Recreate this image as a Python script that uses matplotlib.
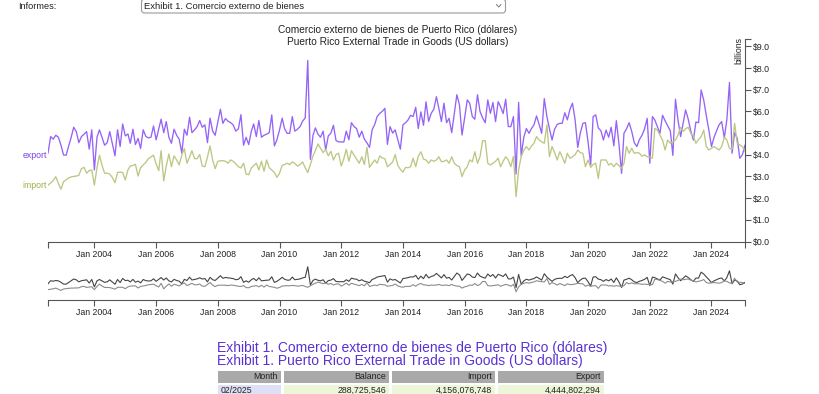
import matplotlib
matplotlib.use('Agg')
import matplotlib.pyplot as plt
import matplotlib.dates as mdates
from matplotlib.patches import Rectangle, FancyBboxPatch
import pandas as pd

plt.rcParams['font.family'] = ['Liberation Sans', 'DejaVu Sans']

# ---------------- data (billions of US dollars, monthly) ----------------
start_month = '2002-07-01'

export_2002 = [4.08, 4.84, 4.72, 4.90, 4.81, 4.45]
export_2003 = [3.99, 3.98, 4.38, 4.80, 5.27, 5.07, 4.56, 4.84, 4.95, 5.07, 4.26, 5.15]
export_2004 = [3.30, 4.81, 5.15, 4.80, 4.44, 4.56, 5.07, 4.50, 3.95, 5.15, 4.38, 5.42]
export_2005 = [4.87, 4.96, 4.53, 5.18, 4.47, 4.75, 4.29, 5.15, 4.85, 4.78, 4.81, 5.33]
export_2006 = [4.69, 5.20, 5.64, 5.02, 5.53, 4.81, 4.53, 5.18, 4.90, 4.72, 4.08, 5.18]
export_2007 = [4.90, 5.73, 5.02, 5.15, 5.30, 5.58, 5.27, 5.38, 4.56, 5.69, 5.09, 4.90]
export_2008 = [5.50, 6.10, 5.45, 5.67, 5.55, 5.48, 5.38, 5.09, 5.20, 5.85, 4.44, 4.81]
export_2009 = [4.47, 5.09, 5.42, 4.84, 5.58, 4.81, 4.90, 4.95, 5.02, 5.84, 4.41, 4.69]
export_2010 = [5.15, 5.69, 5.21, 4.99, 4.99, 5.76, 5.09, 5.18, 5.30, 5.55, 5.70, 8.35]
export_2011 = [3.79, 4.90, 5.24, 4.95, 4.81, 5.09, 4.22, 4.87, 5.00, 5.36, 4.65, 4.60]
export_2012 = [4.59, 4.59, 5.09, 4.69, 5.48, 5.30, 5.21, 4.81, 5.09, 4.72, 4.55, 4.34]
export_2013 = [5.15, 5.40, 5.76, 5.91, 6.00, 6.14, 4.48, 5.30, 5.00, 5.15, 4.70, 4.26]
export_2014 = [5.38, 5.48, 5.60, 5.82, 5.76, 6.19, 5.21, 5.98, 5.36, 6.44, 5.54, 5.91]
export_2015 = [6.10, 6.68, 6.16, 5.53, 6.38, 5.48, 5.68, 5.02, 5.90, 6.77, 6.30, 4.91]
export_2016 = [5.70, 6.53, 6.38, 5.76, 5.64, 6.77, 6.00, 5.70, 5.48, 6.53, 5.91, 6.41]
export_2017 = [5.53, 6.45, 6.22, 5.90, 6.56, 5.30, 5.30, 5.76, 3.11, 6.41, 3.94, 4.80]
export_2018 = [5.21, 4.99, 5.20, 5.38, 5.79, 5.40, 4.99, 6.59, 5.76, 5.20, 4.68, 5.18]
export_2019 = [5.40, 5.45, 5.45, 5.94, 5.61, 6.10, 6.38, 5.61, 4.34, 5.00, 5.45, 5.48]
export_2020 = [4.60, 3.53, 5.76, 5.84, 5.24, 5.11, 4.68, 5.14, 4.81, 5.27, 4.41, 5.57]
export_2021 = [4.50, 3.14, 4.99, 5.20, 5.48, 5.08, 4.56, 4.38, 4.71, 4.90, 5.21, 5.68]
export_2022 = [3.61, 5.76, 5.61, 5.30, 4.99, 5.82, 5.57, 5.33, 5.10, 3.97, 6.56, 5.60]
export_2023 = [4.84, 5.50, 6.07, 5.64, 5.10, 4.68, 5.51, 5.48, 6.99, 6.53, 5.80, 5.14]
export_2024 = [4.38, 4.81, 5.10, 5.39, 5.53, 4.78, 5.61, 7.33, 4.07, 5.02, 4.76, 3.84]
export_2025 = [4.00, 4.44]

import_2002 = [2.60, 2.70, 2.81, 2.99, 2.68, 2.41]
import_2003 = [2.76, 2.85, 2.93, 2.98, 3.00, 3.02, 3.05, 3.36, 3.42, 3.15, 3.27, 3.30]
import_2004 = [2.60, 3.40, 3.98, 3.51, 3.15, 3.15, 3.11, 2.95, 2.71, 3.18, 3.20, 3.18]
import_2005 = [2.84, 3.30, 3.48, 3.51, 3.56, 3.02, 3.40, 3.53, 3.65, 3.82, 3.90, 3.98]
import_2006 = [3.58, 3.27, 4.19, 2.79, 3.48, 4.04, 3.45, 3.95, 3.76, 3.53, 3.99, 4.28]
import_2007 = [3.61, 3.90, 4.19, 3.82, 3.82, 4.01, 3.48, 3.45, 3.90, 4.41, 3.76, 3.36]
import_2008 = [3.70, 3.72, 3.73, 3.70, 3.61, 3.76, 3.70, 3.58, 3.45, 3.39, 3.61, 3.11]
import_2009 = [3.08, 3.39, 3.50, 3.61, 3.30, 3.70, 3.24, 3.76, 3.40, 3.30, 3.18, 2.96]
import_2010 = [3.15, 3.51, 3.55, 3.61, 3.55, 3.67, 3.60, 3.48, 3.55, 3.67, 3.40, 3.18]
import_2011 = [3.55, 3.95, 4.20, 4.50, 4.30, 4.10, 4.25, 3.95, 4.16, 3.76, 4.01, 4.07]
import_2012 = [3.48, 3.82, 4.25, 3.70, 4.19, 3.98, 3.80, 3.61, 3.91, 3.55, 4.34, 3.42]
import_2013 = [3.60, 3.76, 3.61, 3.95, 3.85, 3.82, 3.45, 3.55, 3.67, 4.01, 3.51, 3.33]
import_2014 = [3.20, 3.42, 3.40, 3.45, 3.84, 3.45, 3.93, 4.14, 3.80, 3.76, 3.61, 3.76]
import_2015 = [3.70, 3.76, 3.91, 3.68, 3.70, 3.76, 3.61, 3.91, 3.61, 3.50, 3.45, 2.99]
import_2016 = [3.30, 3.45, 3.76, 3.68, 4.14, 3.61, 3.91, 4.65, 4.65, 3.61, 3.53, 3.61]
import_2017 = [3.70, 3.84, 3.45, 3.70, 3.91, 3.76, 3.45, 3.93, 2.07, 3.30, 3.93, 4.20]
import_2018 = [4.38, 4.22, 4.40, 4.53, 4.84, 4.68, 4.60, 4.53, 5.38, 3.91, 4.38, 4.10]
import_2019 = [3.76, 4.14, 3.90, 3.61, 4.07, 3.84, 3.91, 4.00, 4.22, 4.10, 4.07, 3.45]
import_2020 = [3.76, 3.42, 3.55, 3.61, 2.91, 3.76, 3.76, 3.76, 3.53, 3.60, 3.45, 3.61]
import_2021 = [3.50, 3.38, 3.60, 4.38, 4.07, 4.30, 4.07, 4.10, 4.07, 3.93, 4.00, 3.91]
import_2022 = [3.91, 3.84, 5.22, 5.14, 4.90, 4.68, 4.22, 4.68, 4.53, 4.60, 4.68, 4.91]
import_2023 = [5.27, 5.08, 5.20, 5.27, 4.99, 4.84, 4.53, 4.70, 4.84, 5.14, 4.38, 4.22]
import_2024 = [4.30, 4.38, 4.30, 4.22, 4.38, 4.81, 4.68, 4.30, 4.25, 5.45, 4.53, 4.45]
import_2025 = [4.38, 4.16]

years = list(range(2002, 2026))
export_vals = sum([globals()[f'export_{y}'] for y in years], [])
import_vals = sum([globals()[f'import_{y}'] for y in years], [])
dates = pd.date_range(start_month, periods=len(export_vals), freq='MS')

y_ticks = [0, 1, 2, 3, 4, 5, 6, 7, 8, 9]
x_tick_years = list(range(2004, 2025, 2))

table_columns = ['Month', 'Balance', 'Import', 'Export']
table_month = '02/2025'
table_balance = 288725546
table_import = 4156076748
table_export = 4444802294

title_es = 'Comercio externo de bienes de Puerto Rico (dólares)'
title_en = 'Puerto Rico External Trade in Goods (US dollars)'

# ---------------- styling ----------------
W, H = 820, 394
EXPORT_C = '#9563f7'
IMPORT_C = '#bcc783'
AXIS_C = '#555555'
TXT_C = '#222222'
FS = 6.3

fig = plt.figure(figsize=(W / 100, H / 100), dpi=100)


def rect(l, t, r, b):
    return [l / W, 1 - b / H, (r - l) / W, (b - t) / H]


# overlay for page decorations (pixel coordinates)
ov = fig.add_axes([0, 0, 1, 1])
ov.set_xlim(0, W)
ov.set_ylim(H, 0)
ov.axis('off')
ov.set_zorder(-1)

x0 = mdates.date2num(dates[0])
x1 = mdates.date2num(dates[-1])
ymax = 9.34
xticks = [mdates.date2num(pd.Timestamp(f'{y}-01-01')) for y in x_tick_years]


def style_xaxis(a):
    a.set_xlim(x0, x1)
    a.set_xticks(xticks)
    a.set_xticklabels([f'Jan {y}' for y in x_tick_years])
    a.set_xticks([x0, x1], minor=True)
    a.tick_params(axis='x', which='both', direction='out', length=4.5, width=0.8,
                  color=AXIS_C, labelsize=FS, labelcolor=TXT_C, pad=1.5)
    a.spines['bottom'].set_color(AXIS_C)
    a.spines['bottom'].set_linewidth(0.8)
    for s in ['top', 'left']:
        a.spines[s].set_visible(False)


# ---- main chart ----
ax = fig.add_axes(rect(48, 39, 745, 241.5))
ax.patch.set_alpha(0)
ax.plot(dates, export_vals, color=EXPORT_C, lw=0.95)
ax.plot(dates, import_vals, color=IMPORT_C, lw=0.95)
ax.set_ylim(0, ymax)
style_xaxis(ax)
ax.yaxis.tick_right()
ax.set_yticks(y_ticks)
ax.set_yticklabels([f'${v:.1f}' for v in y_ticks])
ax.set_yticks([ymax], minor=True)
ax.tick_params(axis='y', which='both', direction='out', length=4.5, width=0.8,
               color=AXIS_C, labelsize=FS, labelcolor=TXT_C, pad=1.5)
ax.spines['right'].set_color(AXIS_C)
ax.spines['right'].set_linewidth(0.8)
ax.annotate('export', (dates[0], export_vals[0]), xytext=(-1, -1.5), textcoords='offset points',
            ha='right', va='center', fontsize=FS, color='#7b3fe4', annotation_clip=False)
ax.annotate('import', (dates[0], import_vals[0]), xytext=(-1, 0), textcoords='offset points',
            ha='right', va='center', fontsize=FS, color='#9fae45', annotation_clip=False)

# ---- context chart ----
cx = fig.add_axes(rect(48, 262.8, 745, 300))
cx.patch.set_alpha(0)
cx.plot(dates, export_vals, color='#454545', lw=0.8)
cx.plot(dates, import_vals, color='#8c8c8c', lw=0.8)
cx.set_ylim(0, ymax)
style_xaxis(cx)
cx.set_yticks([])
cx.spines['right'].set_visible(False)

# ---- titles ----
ov.text(398, 30, title_es, ha='center', va='center', fontsize=7.3, color=TXT_C)
ov.text(398, 41.5, title_en, ha='center', va='center', fontsize=7.3, color=TXT_C)
ov.text(739, 50, 'billions', rotation=90, ha='center', va='center', fontsize=FS, color=TXT_C)

# ---- page header ----
ov.text(18, 6, 'Informes:', ha='left', va='center', fontsize=6.6, color=TXT_C)
ov.add_patch(FancyBboxPatch((141.5, -1), 364, 14, boxstyle='round,pad=0,rounding_size=3',
                            fc='white', ec='#9a9a9a', lw=0.8))
ov.text(144, 6, 'Exhibit 1. Comercio externo de bienes', ha='left', va='center',
        fontsize=6.8, color=TXT_C)
ov.plot([496.5, 498.7, 500.9], [4.6, 7.0, 4.6], color='#777777', lw=0.7)

# ---- table ----
TAB_C = '#5a32d2'
ov.text(217, 348, 'Exhibit 1. ' + title_es, ha='left', va='center', fontsize=10, color=TAB_C)
ov.text(217, 361.5, 'Exhibit 1. ' + title_en, ha='left', va='center', fontsize=10, color=TAB_C)
cells = [(218, 281), (284, 389.5), (392.5, 495), (498, 604)]
row_vals = [table_month, f'{table_balance:,}', f'{table_import:,}', f'{table_export:,}']
for i, (l, r) in enumerate(cells):
    ov.add_patch(Rectangle((l, 371), r - l, 11.5, fc='#a9a9a9', ec='none'))
    ov.text(r - 3, 376.9, table_columns[i], ha='right', va='center', fontsize=FS, color=TXT_C)
    ov.add_patch(Rectangle((l, 384.5), r - l, 12, fc='#dfdff5' if i == 0 else '#eef6da', ec='none'))
    if i == 0:
        ov.text(l + 3, 390.3, row_vals[i], ha='left', va='center', fontsize=FS, color=TXT_C)
    else:
        ov.text(r - 3, 390.3, row_vals[i], ha='right', va='center', fontsize=FS, color=TXT_C)

fig.savefig('out.png', dpi=100)
